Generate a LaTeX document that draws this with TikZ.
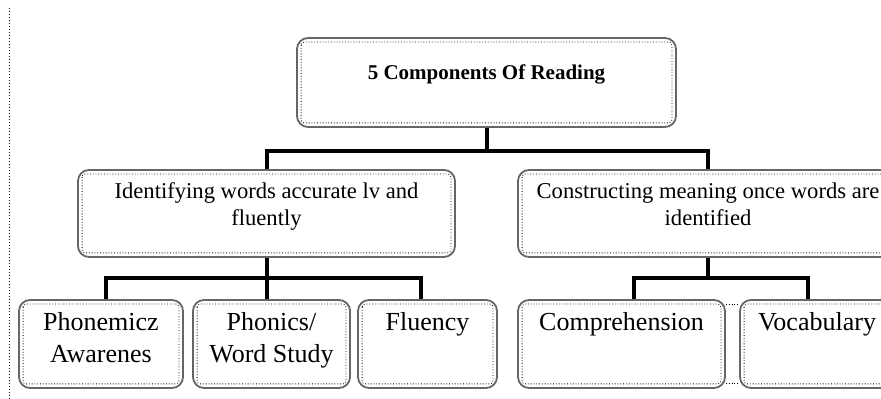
\documentclass[tikz,border=0pt]{standalone}
\usepackage{fontspec}
\setmainfont{Liberation Serif}
\usetikzlibrary{positioning,calc}

\begin{document}
\begin{tikzpicture}[
    x=0.5pt,
    y=-0.5pt,
    compbox/.style={
        draw=black!60,
        line width=0.9pt,
        rounded corners=5.5pt,
        inner sep=0pt
    },
    innerline/.style={
        densely dotted,
        line width=0.4pt,
        rounded corners=1.5pt
    },
    branch/.style={
        line width=2pt,
        black
    },
    headtxt/.style={
        anchor=north,
        inner sep=0pt,
        font=\fontsize{10.5}{12}\selectfont\bfseries
    },
    midtxt/.style={
        anchor=north,
        inner sep=0pt,
        align=center,
        font=\fontsize{11.3}{13.5}\selectfont
    },
    leaftxt/.style={
        anchor=north,
        inner sep=0pt,
        align=center,
        font=\fontsize{13}{15.8}\selectfont
    }
]

% Page frame
\fill[white] (0,0) rectangle (881,399);
\useasboundingbox (0,0) rectangle (881,399);
\clip (0,0) rectangle (881,399);

% Left margin marker
\draw[
    densely dotted,
    line width=0.5pt
]
(9,8) -- (9,399);

% =========================
% ROOT
% =========================
\node[
    compbox,
    minimum width=189.5pt,
    minimum height=44.5pt
]
(reading) at (486.5,82.5) {};

\node[headtxt]
(reading-t) at ([yshift=-13.5pt]reading.north)
{5 Components Of Reading};

% =========================
% SECOND LEVEL
% =========================
\node[
    compbox,
    minimum width=188.5pt,
    minimum height=43.5pt
]
(identify) at (266.5,213.5) {};

\node[midtxt]
(identify-t) at ([yshift=-6.5pt]identify.north)
{Identifying words accurate lv and\\fluently};

\node[
    compbox,
    minimum width=190pt,
    minimum height=43.5pt
]
(construct) at (708,213.5) {};

\node[midtxt]
(construct-t) at ([yshift=-6.5pt]construct.north)
{Constructing meaning once words are\\identified};

% =========================
% LEAVES
% =========================
\node[compbox, minimum width=82pt, minimum height=44pt]
(phonemic) at (101,344) {};
\node[compbox, minimum width=78.5pt, minimum height=44pt]
(phonics) at (271.5,344) {};
\node[compbox, minimum width=69.5pt, minimum height=44pt]
(fluency) at (427.5,344) {};
\node[compbox, minimum width=103.5pt, minimum height=44pt]
(compre) at (621.5,344) {};
\node[compbox, minimum width=77pt, minimum height=44pt]
(vocab) at (817,344) {};

\node[leaftxt] (phonemic-t) at ([yshift=-6.5pt]phonemic.north)
{Phonemicz\\Awarenes};
\node[leaftxt] (phonics-t) at ([yshift=-6.5pt]phonics.north)
{Phonics/\\Word Study};
\node[leaftxt] (fluency-t) at ([yshift=-6.5pt]fluency.north)
{Fluency};
\node[leaftxt] (compre-t) at ([yshift=-6.5pt]compre.north)
{Comprehension};
\node[leaftxt] (vocab-t) at ([yshift=-6.5pt]vocab.north)
{Vocabulary};

% Inner dotted frames
\foreach \n in {reading,identify,construct,phonemic,phonics,fluency,compre,vocab}
    \draw[innerline]
    ([shift={(5,5)}]\n.north west) rectangle ([shift={(-5,-5)}]\n.south east);

\draw[innerline, rounded corners=0pt]
([yshift=-2.5pt]compre.north east) -- ([yshift=-2.5pt]vocab.north west);
\draw[innerline, rounded corners=0pt]
([yshift=2.5pt]compre.south east) -- ([yshift=2.5pt]vocab.south west);

% =========================
% CONNECTORS
% =========================
\draw[branch] (reading.south) -- ++(0,23) coordinate (rootbar);
\draw[branch] (identify.north) |- (rootbar) -| (construct.north);

\draw[branch] (identify.south) -- ++(0,20) coordinate (leftbar);
\draw[branch]
([xshift=2.5pt]phonemic.north) |- (leftbar) -| ([xshift=-3.25pt]fluency.north);
\draw[branch] (leftbar) -- (leftbar |- phonics.north);

\draw[branch] (construct.south) -- ++(0,20) coordinate (rightbar);
\draw[branch]
([xshift=6.25pt]compre.north) |- (rightbar) -| ([xshift=-4.5pt]vocab.north);

\end{tikzpicture}
\end{document}
